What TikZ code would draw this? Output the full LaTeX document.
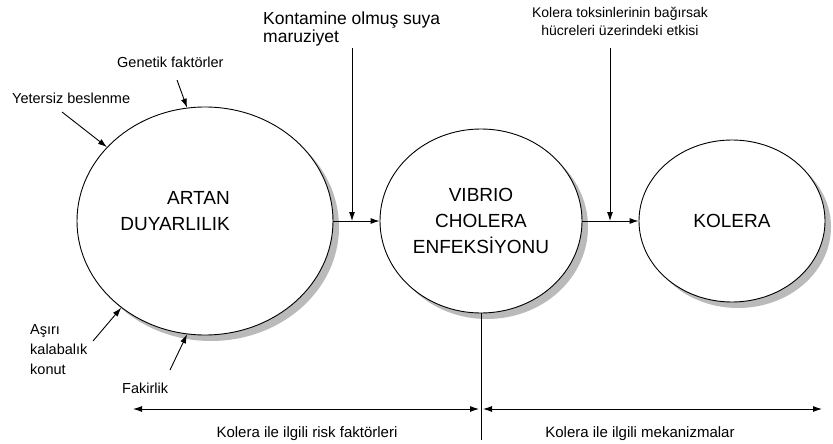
\documentclass[tikz,border=0pt]{standalone}
\usepackage{fontspec}
\setmainfont{Liberation Sans}
\usetikzlibrary{backgrounds,arrows.meta,shapes.geometric,shadows}

\begin{document}
\begin{tikzpicture}[%
    x=1pt,y=-1pt,%
    show background rectangle,%
    tight background,%
    background rectangle/.style={fill=white}%
  ]
  %
% Styles
%
\tikzset{every node/.style={inner sep=0pt}};%
\tikzset{fleche/.style={line width=0.9pt, -{Latex[length=9pt,width=6pt]}}};%
\tikzset{double fleche/.style={line width=0.9pt, {Latex[length=9pt,width=6pt]}-{Latex[length=9pt,width=6pt]}}};%
\tikzset{bulle/.style={ellipse, draw, line width=0.9pt, fill=white, drop shadow={shadow xshift=6pt, shadow yshift=-6pt, fill=black!27, opacity=1}}};%
\tikzset{bulle texte/.style={align=center, font=\fontsize{19}{26}\selectfont}};%
\tikzset{etiquette/.style={align=left, font=\fontsize{14.5}{20}\selectfont}};%

%
% Macros
%
\pgfmathsetmacro{\ymilieu}{221};%
\pgfmathsetmacro{\ybas}{409};%
\pgfmathsetmacro{\xcoupure}{481};%

\useasboundingbox (0,0) rectangle (833,444);%

%
% The three circles
%
\node[bulle, minimum width=256pt, minimum height=228pt] (duyarlilik) at (205,\ymilieu) {};%
\node[bulle texte, align=right, anchor=east] (duyarlilik texte) at (230,211) {ARTAN\\DUYARLILIK};%
\node[bulle, bulle texte, minimum width=202pt, minimum height=184pt] (enfeksiyon) at (\xcoupure,\ymilieu) {VIBRIO\\CHOLERA\\ENFEKSİYONU};%
\node[bulle, bulle texte, minimum width=186pt, minimum height=162pt] (kolera) at (732,\ymilieu) {KOLERA};%

%
% Labels
%
\node[etiquette, anchor=north west, font=\fontsize{17.5}{15}\selectfont] (kontamine) at (263,12) {Kontamine olmuş suya\\maruziyet};%
\node[etiquette, anchor=north, align=center, font=\fontsize{14}{18}\selectfont] (toksin) at (620,7) {Kolera toksinlerinin bağırsak\\hücreleri üzerindeki etkisi};%
\node[etiquette, anchor=base west] (genetik) at (117,68) {Genetik faktörler};%
\node[etiquette, anchor=base west] (beslenme) at (12,103) {Yetersiz beslenme};%
\node[etiquette, anchor=north west] (konut) at (30,324.5) {Aşırı\\kalabalık\\konut};%
\node[etiquette, anchor=base west] (fakirlik) at (122,393) {Fakirlik};%
\node[etiquette, anchor=base, font=\fontsize{15}{20}\selectfont] (risk) at (307,437) {Kolera ile ilgili risk faktörleri};%
\node[etiquette, anchor=base, font=\fontsize{15}{20}\selectfont] (mekanizma) at (640,437) {Kolera ile ilgili mekanizmalar};%

%
% Free ends
%
\coordinate (genetik ucu) at (177,80);%
\coordinate (beslenme ucu) at (62,112);%
\coordinate (konut ucu) at (93,341);%
\coordinate (fakirlik ucu) at (170,370);%
\coordinate (kontamine ucu) at (352,48);%
\coordinate (toksin ucu) at (610,48);%
\coordinate (sol uc) at (133,\ybas);%
\coordinate (orta sol) at (\xcoupure-2,\ybas);%
\coordinate (orta sag) at (\xcoupure+2,\ybas);%
\coordinate (sag uc) at (822,\ybas);%
\coordinate (coupure) at (\xcoupure,440);%

%
% Arrows
%
\draw[fleche] (genetik ucu) -- (duyarlilik.99);%
\draw[fleche] (beslenme ucu) -- (duyarlilik.143.5);%
\draw[fleche] (konut ucu) -- (duyarlilik.226);%
\draw[fleche] (fakirlik ucu) -- (duyarlilik.261);%

\draw[fleche] (duyarlilik) -- (enfeksiyon);%
\draw[fleche] (enfeksiyon) -- (kolera);%
\draw[fleche] (kontamine ucu) -- (kontamine ucu |- duyarlilik.east);%
\draw[fleche] (toksin ucu) -- (toksin ucu |- kolera.west);%

% Split between risk factors and mechanisms
\draw[line width=0.9pt] (enfeksiyon.south) -- (coupure);%
\draw[double fleche] (sol uc) -- (orta sol);%
\draw[double fleche] (orta sag) -- (sag uc);%
\end{tikzpicture}
\end{document}
